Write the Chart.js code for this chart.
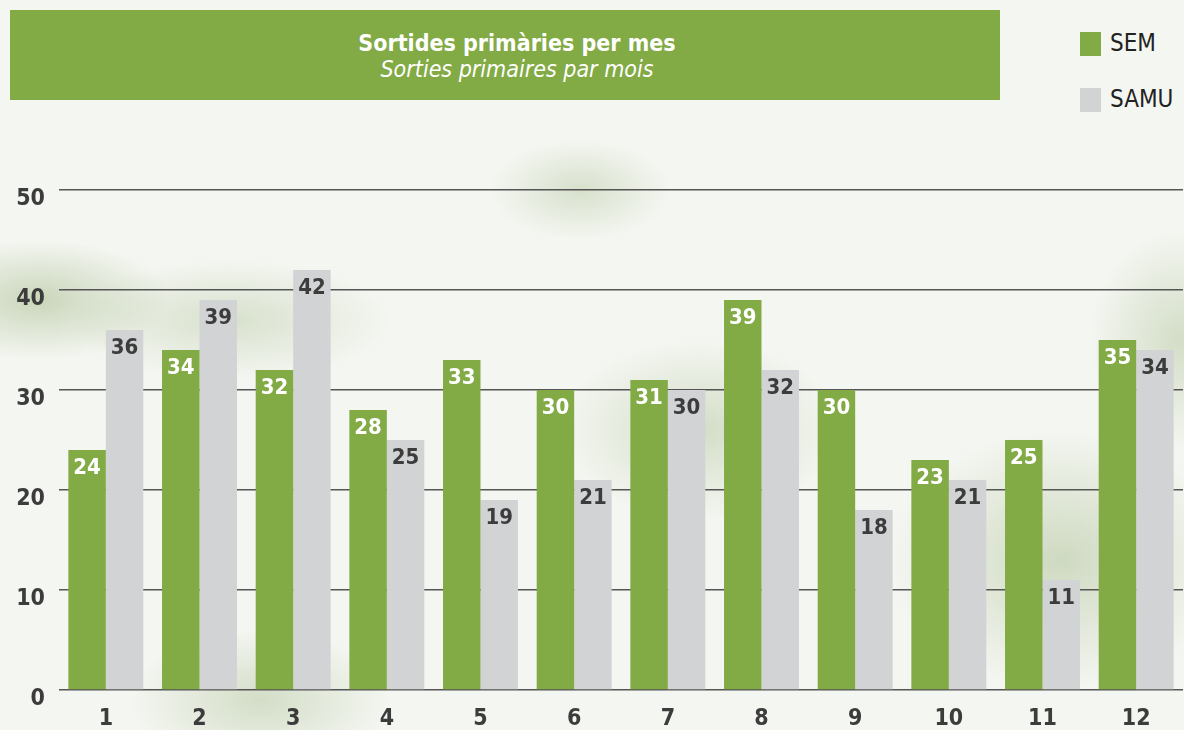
<!DOCTYPE html>
<html>
<head>
<meta charset="utf-8">
<script src="https://cdn.jsdelivr.net/npm/chart.js@4/dist/chart.umd.min.js"></script>
<style>
  html, body { margin: 0; padding: 0; }
  body {
    width: 1184px; height: 730px; overflow: hidden; position: relative;
    font-family: "DejaVu Sans Condensed", "Liberation Sans", sans-serif;
    background:
      radial-gradient(ellipse 130px 60px at 40px 300px, rgba(150,175,120,0.45), rgba(150,175,120,0) 100%),
      radial-gradient(ellipse 160px 60px at 230px 320px, rgba(150,175,120,0.3), rgba(150,175,120,0) 100%),
      radial-gradient(ellipse 140px 90px at 700px 430px, rgba(150,175,120,0.35), rgba(150,175,120,0) 100%),
      radial-gradient(ellipse 170px 130px at 1060px 560px, rgba(150,175,120,0.4), rgba(150,175,120,0) 100%),
      radial-gradient(ellipse 90px 50px at 580px 190px, rgba(150,175,120,0.3), rgba(150,175,120,0) 100%),
      radial-gradient(ellipse 130px 70px at 260px 700px, rgba(150,175,120,0.35), rgba(150,175,120,0) 100%),
      radial-gradient(ellipse 90px 110px at 1180px 340px, rgba(150,175,120,0.35), rgba(150,175,120,0) 100%),
      #f4f6f1;
  }
  #titleBox {
    position: absolute; left: 10px; top: 10px; width: 966px; height: 90px; padding-left: 24px;
    background: #82aa45; color: #fff; text-align: center;
  }
  #titleBox .main { font-weight: bold; font-size: 23px; margin-top: 20px; line-height: 26px; }
  #titleBox .sub { font-style: italic; font-size: 23px; line-height: 26px; }
  .leg { position: absolute; left: 1080px; font-size: 24px; color: #222; }
  .leg span { display: inline-block; width: 21px; height: 24px; vertical-align: middle; margin-right: 9px; }
  #wrap { position: absolute; left: 0; top: 0; width: 1184px; height: 730px; }
</style>
</head>
<body>
<div id="titleBox">
  <div class="main">Sortides primàries per mes</div>
  <div class="sub">Sorties primaires par mois</div>
</div>
<div class="leg" style="top:29px"><span style="background:#82aa45"></span>SEM</div>
<div class="leg" style="top:85px"><span style="background:#d2d3d5"></span>SAMU</div>
<div id="wrap"><canvas id="chart"></canvas></div>
<script>
let months = ["1", "2", "3", "4", "5", "6", "7", "8", "9", "10", "11", "12"];
let sem = [24, 34, 32, 28, 33, 30, 31, 39, 30, 23, 25, 35];
let samu = [36, 39, 42, 25, 19, 21, 30, 32, 18, 21, 11, 34];
let yTicks = [0, 10, 20, 30, 40, 50];

let font = "'DejaVu Sans Condensed', 'Liberation Sans', sans-serif";

// value labels inside the top of each bar
let barLabels = {
  id: "barLabels",
  afterDatasetsDraw(chart) {
    let ctx = chart.ctx;
    ctx.save();
    ctx.font = "bold 22px " + font;
    ctx.textAlign = "center";
    ctx.textBaseline = "middle";
    chart.data.datasets.forEach((ds, i) => {
      chart.getDatasetMeta(i).data.forEach((bar, j) => {
        ctx.fillStyle = i === 0 ? "#ffffff" : "#3c3c3c";
        ctx.fillText(ds.data[j], bar.x, bar.y + 18);
      });
    });
    ctx.restore();
  }
};

new Chart(document.getElementById("chart"), {
  type: "bar",
  data: {
    labels: months,
    datasets: [
      { label: "SEM", data: sem, backgroundColor: "#82aa45" },
      { label: "SAMU", data: samu, backgroundColor: "#d2d3d5" }
    ]
  },
  options: {
    responsive: true,
    maintainAspectRatio: false,
    animation: false,
    layout: { padding: { top: 190, right: 1, left: 0, bottom: 0 } },
    plugins: { legend: { display: false }, tooltip: { enabled: false } },
    datasets: { bar: { categoryPercentage: 0.8, barPercentage: 1.0 } },
    scales: {
      x: {
        grid: { display: false },
        border: { display: false },
        ticks: { color: "#3c3c3c", font: { family: font, size: 23, weight: "bold" }, padding: 7 },
        afterFit(scale) { scale.height = 40; }
      },
      y: {
        min: 0, max: 50,
        afterBuildTicks(scale) { scale.ticks = yTicks.map(v => ({ value: v })); },
        grid: { color: "#555555", lineWidth: 1.5, drawTicks: false },
        border: { display: false },
        ticks: { color: "#3c3c3c", font: { family: font, size: 23, weight: "bold" }, padding: 14, labelOffset: 9 },
        afterFit(scale) { scale.width = 59; }
      }
    }
  },
  plugins: [barLabels]
});
</script>
</body>
</html>
